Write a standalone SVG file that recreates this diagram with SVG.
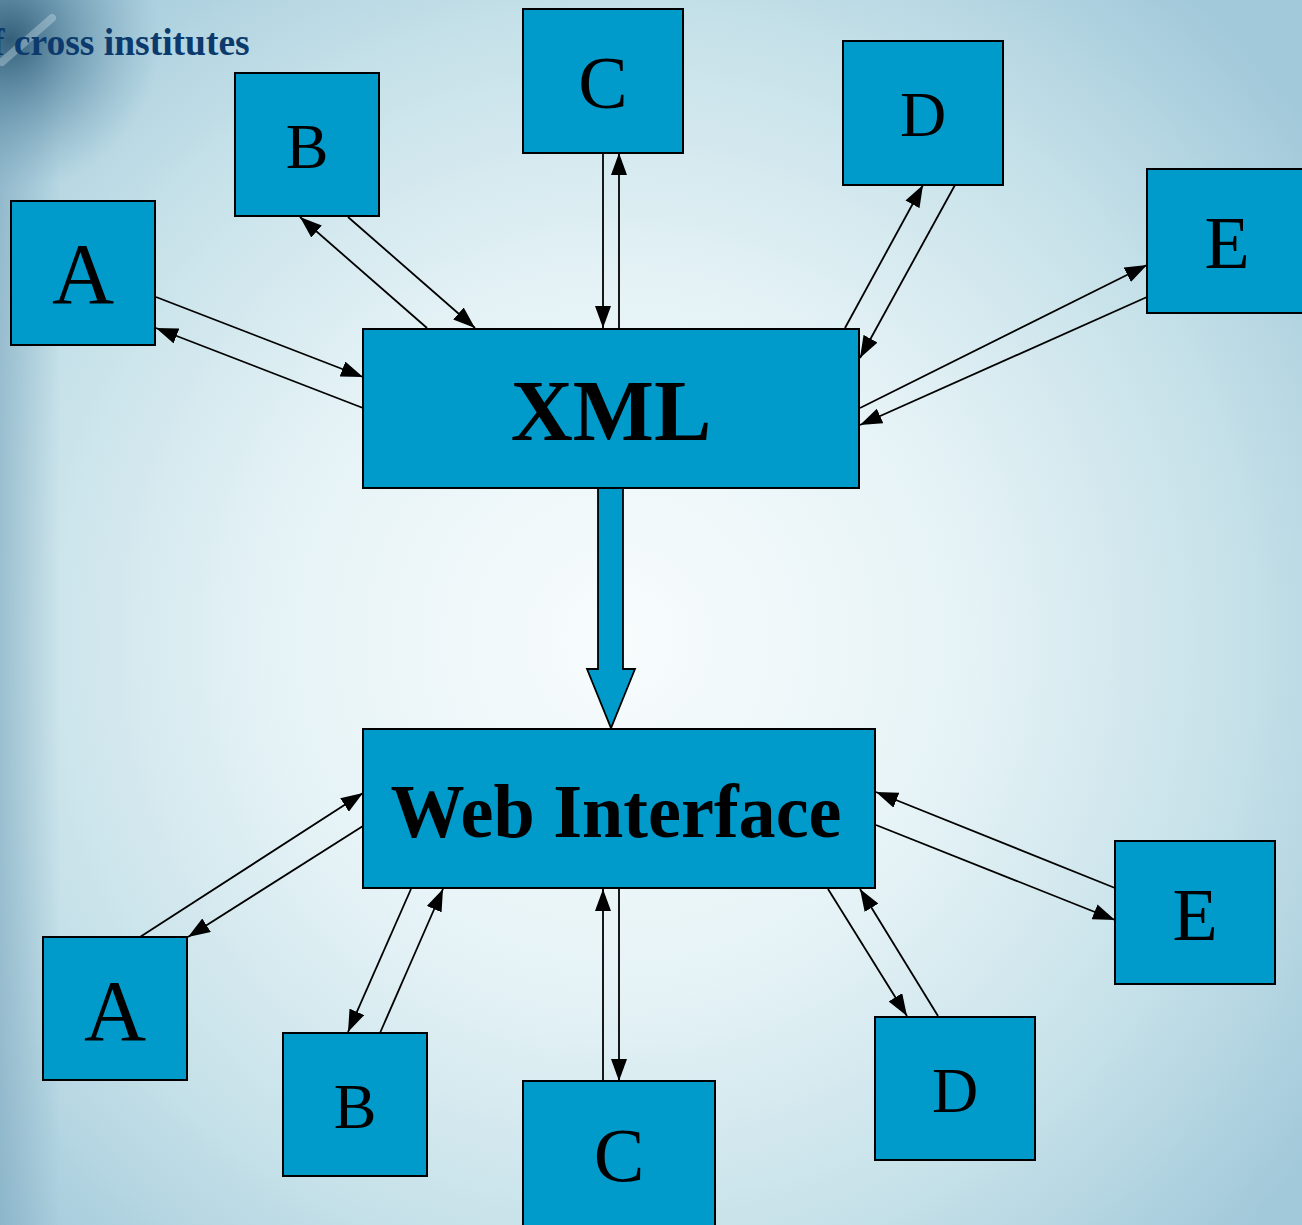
<svg xmlns="http://www.w3.org/2000/svg" width="1302" height="1225" viewBox="0 0 1302 1225">
<defs>
<radialGradient id="bg" cx="620" cy="640" r="860" gradientUnits="userSpaceOnUse">
<stop offset="0" stop-color="#f8fcfd"/>
<stop offset="0.4" stop-color="#e6f3f6"/>
<stop offset="0.72" stop-color="#c6e1e9"/>
<stop offset="1" stop-color="#a2c9da"/>
</radialGradient>
<radialGradient id="dark" cx="10" cy="40" r="150" gradientUnits="userSpaceOnUse">
<stop offset="0" stop-color="#2f5a76" stop-opacity="0.95"/>
<stop offset="0.5" stop-color="#4f7f9a" stop-opacity="0.5"/>
<stop offset="1" stop-color="#6f9cb4" stop-opacity="0"/>
</radialGradient>
<linearGradient id="leftedge" x1="0" y1="0" x2="1" y2="0">
<stop offset="0" stop-color="#7fa9bf" stop-opacity="0.6"/>
<stop offset="1" stop-color="#7fa9bf" stop-opacity="0"/>
</linearGradient>
<marker id="ah" viewBox="0 0 22 16" refX="22" refY="8" markerWidth="22" markerHeight="16" markerUnits="userSpaceOnUse" orient="auto">
<path d="M0,0 L22,8 L0,16 z" fill="#000"/>
</marker>
<style>
.box{fill:#009bcb;stroke:#000;stroke-width:2}
.lbl{font-family:"Liberation Serif","Times New Roman",serif;fill:#000;text-anchor:middle}
.big{font-weight:bold}
.con{stroke:#000;stroke-width:1.8;fill:none;marker-end:url(#ah)}
</style>
</defs>
<rect x="0" y="0" width="1302" height="1225" fill="url(#bg)"/>
<rect x="0" y="0" width="60" height="1225" fill="url(#leftedge)"/>
<rect x="0" y="0" width="200" height="200" fill="url(#dark)"/>
<path d="M2,62 L52,18" stroke="#d6e8f0" stroke-width="8" stroke-linecap="round" fill="none" opacity="0.35"/>
<text x="-8" y="55" font-family="'Liberation Serif','Times New Roman',serif" font-weight="bold" font-size="37.5" fill="#0c3a6c">f cross institutes</text>

<g id="connectors">
<line class="con" x1="156" y1="297" x2="363" y2="377"/>
<line class="con" x1="363" y1="408" x2="156" y2="328"/>
<line class="con" x1="427" y1="328" x2="300" y2="217"/>
<line class="con" x1="348" y1="217" x2="475" y2="328"/>
<line class="con" x1="603" y1="153" x2="603" y2="328"/>
<line class="con" x1="619" y1="328" x2="619" y2="153"/>
<line class="con" x1="845" y1="328" x2="923" y2="185"/>
<line class="con" x1="955" y1="185" x2="860" y2="358"/>
<line class="con" x1="860" y1="408" x2="1147" y2="265"/>
<line class="con" x1="1147" y1="297" x2="860" y2="425"/>
<path d="M598,488 L623,488 L623,669 L635,669 L611,728 L587,669 L598,669 Z" fill="#009bcb" stroke="#000" stroke-width="1.8"/>
<line class="con" x1="140" y1="937" x2="363" y2="793"/>
<line class="con" x1="363" y1="826" x2="188" y2="937"/>
<line class="con" x1="411" y1="889" x2="348" y2="1032"/>
<line class="con" x1="380" y1="1033" x2="443" y2="889"/>
<line class="con" x1="603" y1="1081" x2="603" y2="889"/>
<line class="con" x1="619" y1="889" x2="619" y2="1081"/>
<line class="con" x1="828" y1="889" x2="907" y2="1016"/>
<line class="con" x1="938" y1="1016" x2="860" y2="889"/>
<line class="con" x1="1115" y1="888" x2="876" y2="792"/>
<line class="con" x1="876" y1="825" x2="1115" y2="920"/>
</g>

<g id="xml"><rect class="box" x="363" y="329" width="496" height="159"/><text class="lbl big" x="611" y="440" font-size="86">XML</text></g>
<g id="web"><rect class="box" x="363" y="729" width="512" height="159"/><text class="lbl big" x="616" y="837" font-size="77" textLength="451" lengthAdjust="spacingAndGlyphs">Web Interface</text></g>

<g id="topA"><rect class="box" x="11" y="201" width="144" height="144"/><text class="lbl" x="83" y="303" font-size="86">A</text></g>
<g id="topB"><rect class="box" x="235" y="73" width="144" height="143"/><text class="lbl" x="307" y="168" font-size="64">B</text></g>
<g id="topC"><rect class="box" x="523" y="9" width="160" height="144"/><text class="lbl" x="603" y="108" font-size="74">C</text></g>
<g id="topD"><rect class="box" x="843" y="41" width="160" height="144"/><text class="lbl" x="923" y="136" font-size="64">D</text></g>
<g id="topE"><rect class="box" x="1147" y="169" width="160" height="144"/><text class="lbl" x="1227" y="268" font-size="74">E</text></g>

<g id="botA"><rect class="box" x="43" y="937" width="144" height="143"/><text class="lbl" x="115" y="1040" font-size="86">A</text></g>
<g id="botB"><rect class="box" x="283" y="1033" width="144" height="143"/><text class="lbl" x="355" y="1128" font-size="64">B</text></g>
<g id="botC"><rect class="box" x="523" y="1081" width="192" height="150"/><text class="lbl" x="619" y="1181" font-size="76">C</text></g>
<g id="botD"><rect class="box" x="875" y="1017" width="160" height="143"/><text class="lbl" x="955" y="1112" font-size="64">D</text></g>
<g id="botE"><rect class="box" x="1115" y="841" width="160" height="143"/><text class="lbl" x="1195" y="940" font-size="74">E</text></g>
</svg>
